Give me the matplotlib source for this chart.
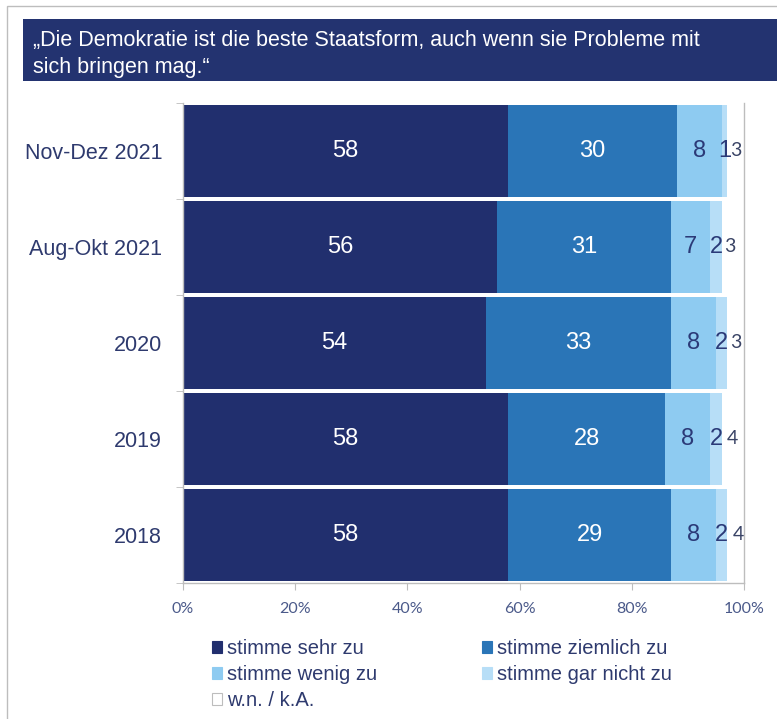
import matplotlib
matplotlib.use('Agg')
import matplotlib.pyplot as plt
from matplotlib.patches import Rectangle, Patch
import numpy as np

# data (percent)
categories = ['Nov-Dez 2021', 'Aug-Okt 2021', '2020', '2019', '2018']
sehr_zu = [58, 56, 54, 58, 58]
ziemlich_zu = [30, 31, 33, 28, 29]
wenig_zu = [8, 7, 8, 8, 8]
gar_nicht_zu = [1, 2, 2, 2, 2]
wn_ka = [3, 3, 3, 4, 4]
series_names = ['stimme sehr zu', 'stimme ziemlich zu', 'stimme wenig zu',
                'stimme gar nicht zu', 'w.n. / k.A.']
xticks = [0, 20, 40, 60, 80, 100]
title_lines = ['\u201eDie Demokratie ist die beste Staatsform, auch wenn sie Probleme mit',
               'sich bringen mag.\u201c']

navy = '#212F6E'
colors = [navy, '#2A75B7', '#8ECBF1', '#B7DEF7', '#FFFFFF']
label_colors = ['white', 'white', '#2B3A78', '#2B3A78', '#3A4466']
label_fonts = ['Liberation Sans'] * 4 + ['Lato']
label_sizes = [17, 17, 17, 17, 14]
text_col = '#2E3A6E'

plt.rcParams['font.family'] = ['Liberation Sans', 'DejaVu Sans']

fig = plt.figure(figsize=(7.77, 7.19), dpi=100)
W, H = 777, 719

# outer frame + title box
fig.add_artist(Rectangle((7 / W, -0.1), 1.2, 1 - 6 / H + 0.1, transform=fig.transFigure,
                         facecolor='none', edgecolor='#BDBDBD', linewidth=1))
fig.add_artist(Rectangle((23 / W, 1 - 81 / H), 1.0, 62 / H, transform=fig.transFigure,
                         facecolor='#233370', edgecolor='none'))
for k, line in enumerate(title_lines):
    fig.text(33 / W, 1 - (46 + 27 * k) / H, line, color='white', fontsize=15.5,
             va='baseline', ha='left')

ax = fig.add_axes([183 / W, 1 - 583 / H, (744 - 183) / W, (583 - 103) / H])

data = [sehr_zu, ziemlich_zu, wenig_zu, gar_nicht_zu, wn_ka]
y = np.arange(len(categories))
left = np.zeros(len(categories))
for i, vals in enumerate(data):
    vals = np.array(vals, dtype=float)
    ax.barh(y, vals, left=left, height=0.958, color=colors[i], linewidth=0)
    for j, v in enumerate(vals):
        ax.text(left[j] + v / 2, y[j], '%d' % v, ha='center', va='center',
                color=label_colors[i], fontsize=label_sizes[i], family=label_fonts[i])
    left += vals

ax.set_xlim(0, 100)
ax.set_ylim(len(categories) - 0.5, -0.5)

ax.set_yticks(y)
ax.set_yticklabels(categories, fontsize=15.5, color=text_col)
ax.tick_params(axis='y', which='major', length=0, pad=15)
ax.set_yticks(np.arange(len(categories) + 1) - 0.5, minor=True)
ax.tick_params(axis='y', which='minor', length=5, color='#BDBDBD', direction='out')

ax.set_xticks(xticks)
ax.set_xticklabels(['%d%%' % t for t in xticks], fontsize=11.5, color='#4B5A8A',
                   family='Lato')
ax.tick_params(axis='x', length=5, color='#BDBDBD', pad=9)

for s in ['left', 'bottom', 'right']:
    ax.spines[s].set_color('#BDBDBD')
    ax.spines[s].set_linewidth(1)
ax.spines['top'].set_visible(False)

handles = [Patch(facecolor=colors[k], edgecolor='#BDBDBD' if k == 4 else colors[k],
                 linewidth=0.8) for k in range(5)]
order = [0, 2, 4, 1, 3]
leg = fig.legend([handles[k] for k in order], [series_names[k] for k in order],
                 ncol=2, loc='upper left', bbox_to_anchor=(212 / W, 1 - 639 / H),
                 frameon=False, fontsize=14.5, handlelength=0.5, handleheight=0.5,
                 handletextpad=0.25, columnspacing=5.2, labelspacing=0.35,
                 borderaxespad=0, borderpad=0)
for t in leg.get_texts():
    t.set_color(text_col)

fig.savefig('out.png', dpi=100)
